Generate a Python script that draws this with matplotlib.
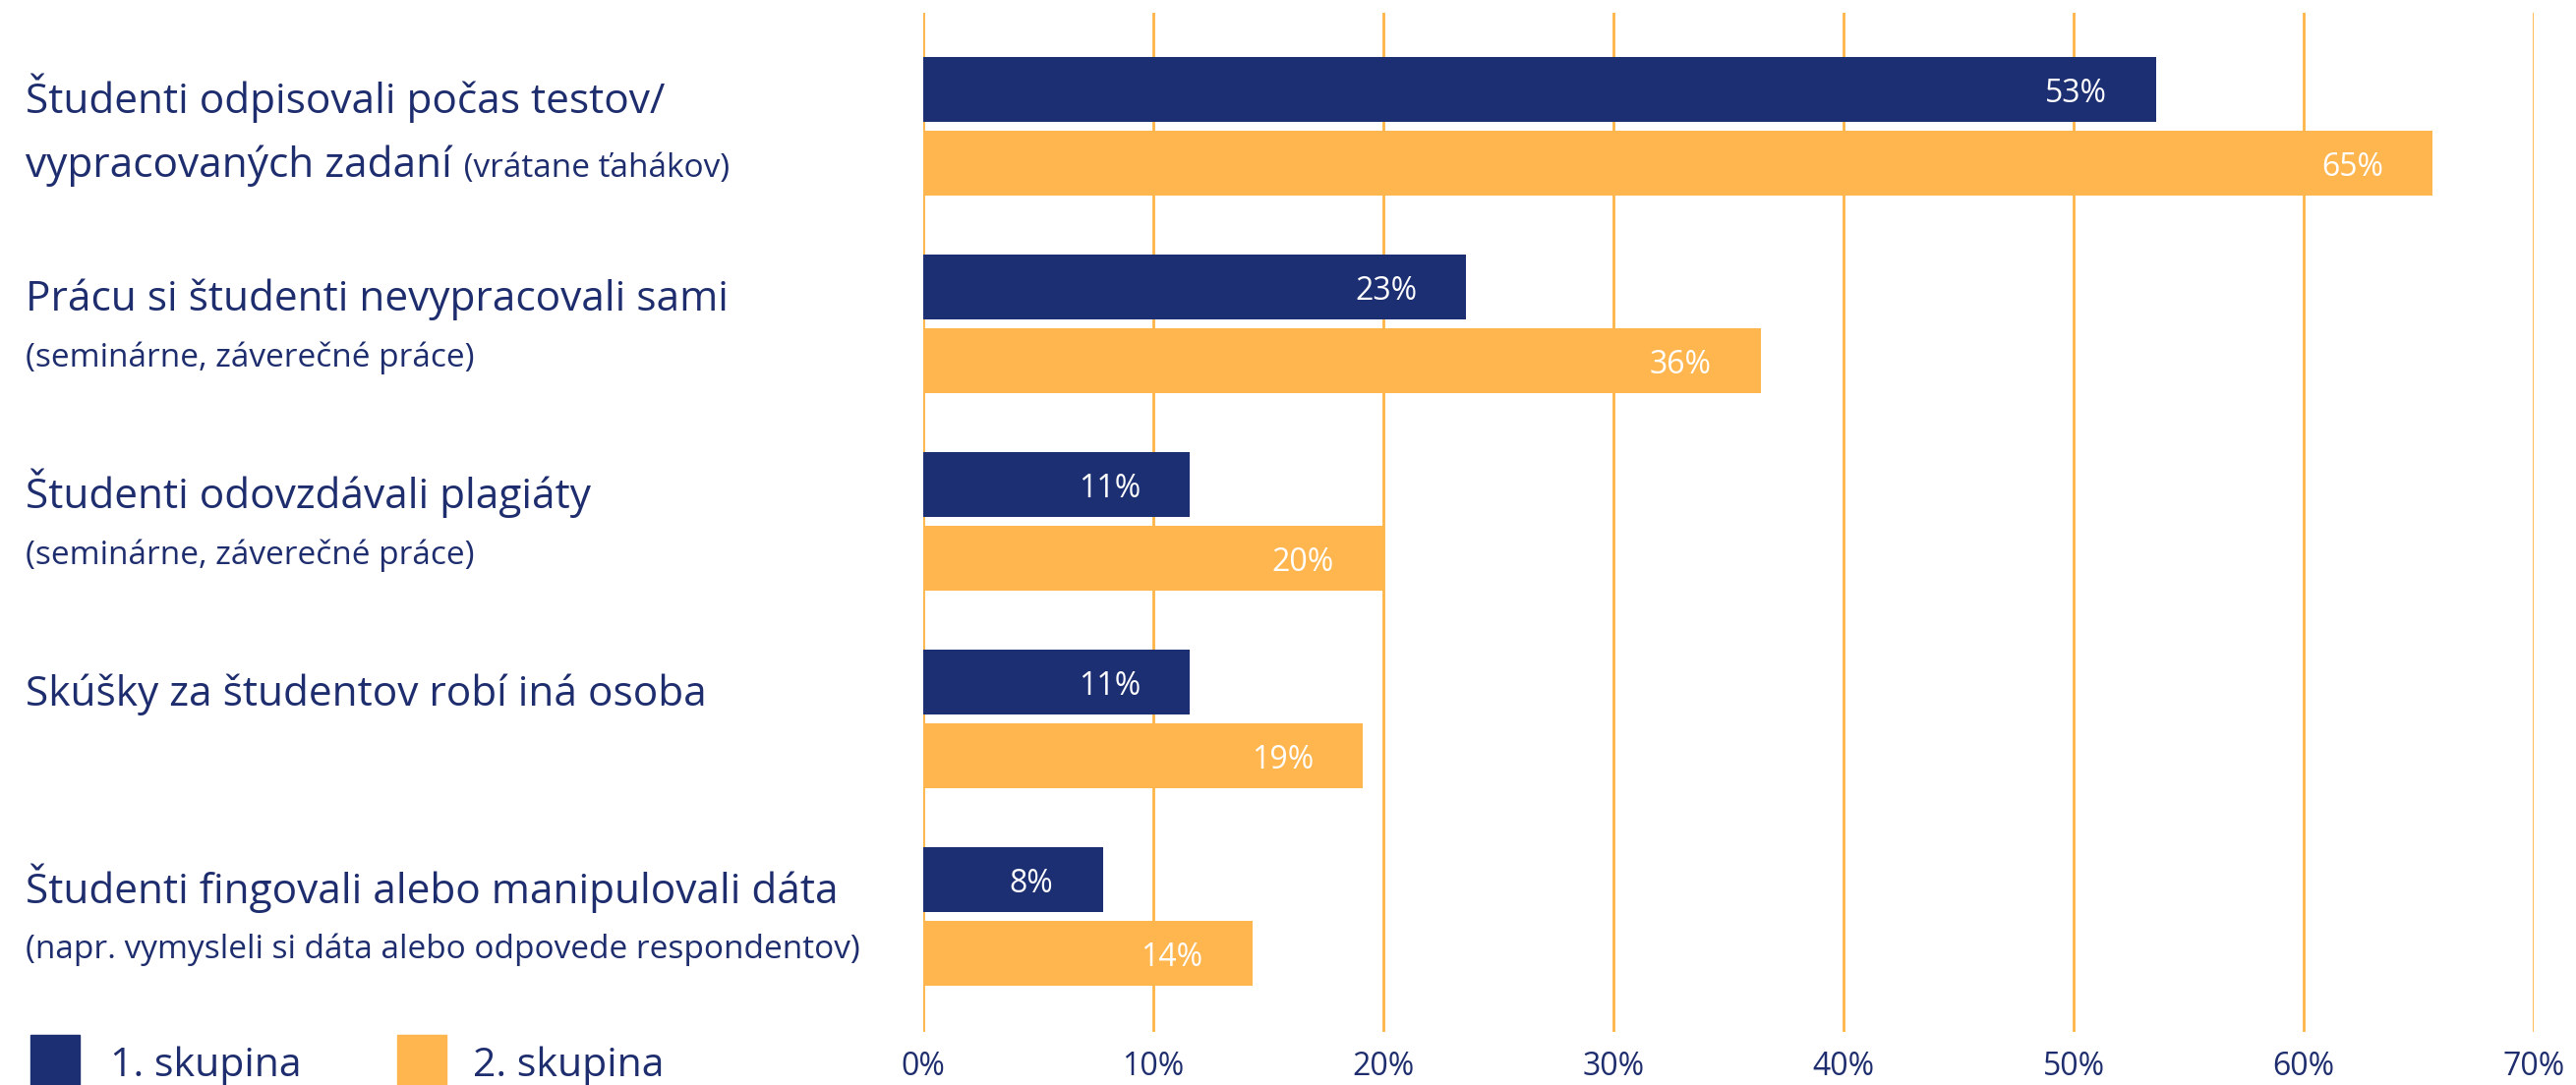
import numpy as np
import matplotlib
matplotlib.use("Agg")
import matplotlib.pyplot as plt
from matplotlib.patches import Rectangle

# --> Data
main_lines = [
    ["Študenti odpisovali počas testov/", "vypracovaných zadaní"],
    ["Prácu si študenti nevypracovali sami"],
    ["Študenti odovzdávali plagiáty"],
    ["Skúšky za študentov robí iná osoba"],
    ["Študenti fingovali alebo manipulovali dáta"],
]
sub_lines = [
    "(vrátane ťahákov)",
    "(seminárne, záverečné práce)",
    "(seminárne, záverečné práce)",
    "",
    "(napr. vymysleli si dáta alebo odpovede respondentov)",
]
series_names = ["1. skupina", "2. skupina"]
group1 = [53.6, 23.6, 11.6, 11.6, 7.8]
group2 = [65.6, 36.4, 20.0, 19.1, 14.3]
labels1 = ["53%", "23%", "11%", "11%", "8%"]
labels2 = ["65%", "36%", "20%", "19%", "14%"]
x_ticks = [0, 10, 20, 30, 40, 50, 60, 70]

# --> Style
NAVY = "#1B2F72"
ORANGE = "#FFB64F"
GRID = "#FFB446"
TEXT = "#1E2D6E"
plt.rcParams["font.family"] = ["Open Sans", "DejaVu Sans"]

W, H = 2620, 1104
fig = plt.figure(figsize=(W / 100, H / 100), dpi=100)
ax = fig.add_axes([939 / W, 1 - 1050 / H, (2577 - 939) / W, (1050 - 13) / H])

y = np.arange(len(main_lines))
offset = 0.186
height = 0.326

ax.barh(y - offset, group1, height=height, color=NAVY, zorder=3)
ax.barh(y + offset, group2, height=height, color=ORANGE, zorder=3)

# --> Value labels inside the bars
for vals, labs, off in ((group1, labels1, -offset), (group2, labels2, offset)):
    for i, (v, lab) in enumerate(zip(vals, labs)):
        ax.annotate(lab, xy=(v, i + off), xytext=(-36, -9.4), textcoords="offset points",
                    ha="right", va="baseline", color="white", fontsize=23, zorder=4)

ax.set_xlim(0, 70)
ax.set_ylim(len(main_lines) - 1 + 0.585, -0.575)
ax.set_yticks([])
ax.set_xticks(x_ticks)
ax.set_xticklabels([f"{t}%" for t in x_ticks])
ax.tick_params(axis="x", length=0, pad=14, labelsize=23, labelcolor=TEXT)
ax.grid(axis="x", color=GRID, linewidth=2.0, zorder=1)
ax.set_axisbelow(True)
for s in ax.spines.values():
    s.set_visible(False)

# --> Category labels on the left
x_left = 26 / W
MAIN_FS, SUB_FS = 30.5, 24
for i, (lines, sub) in enumerate(zip(main_lines, sub_lines)):
    t = ax.annotate(lines[0], xy=(x_left, i), xycoords=("figure fraction", "data"),
                    xytext=(0, 9.7), textcoords="offset points", ha="left", va="baseline",
                    fontsize=MAIN_FS, color=TEXT, annotation_clip=False)
    if len(lines) > 1:
        t2 = ax.annotate(lines[1], xy=(x_left, i), xycoords=("figure fraction", "data"),
                         xytext=(0, -37), textcoords="offset points", ha="left", va="baseline",
                         fontsize=MAIN_FS, color=TEXT, annotation_clip=False)
        ax.annotate(" " + sub, xy=(1, i), xycoords=(t2, "data"),
                    xytext=(2, -37), textcoords="offset points", ha="left", va="baseline",
                    fontsize=SUB_FS, color=TEXT, annotation_clip=False)
    elif sub:
        ax.annotate(sub, xy=(x_left, i), xycoords=("figure fraction", "data"),
                    xytext=(0, -31), textcoords="offset points", ha="left", va="baseline",
                    fontsize=SUB_FS, color=TEXT, annotation_clip=False)

# --> Legend at the bottom left
for (sx, tx), name, col in zip(((31, 112), (404, 481)), series_names, (NAVY, ORANGE)):
    fig.patches.append(Rectangle((sx / W, 0), 50 / W, (H - 1053) / H,
                                 transform=fig.transFigure, color=col))
    fig.text(tx / W, 1 - 1095 / H, name, ha="left", va="baseline", fontsize=29.5, color=TEXT)

fig.savefig("out.png", dpi=100)
